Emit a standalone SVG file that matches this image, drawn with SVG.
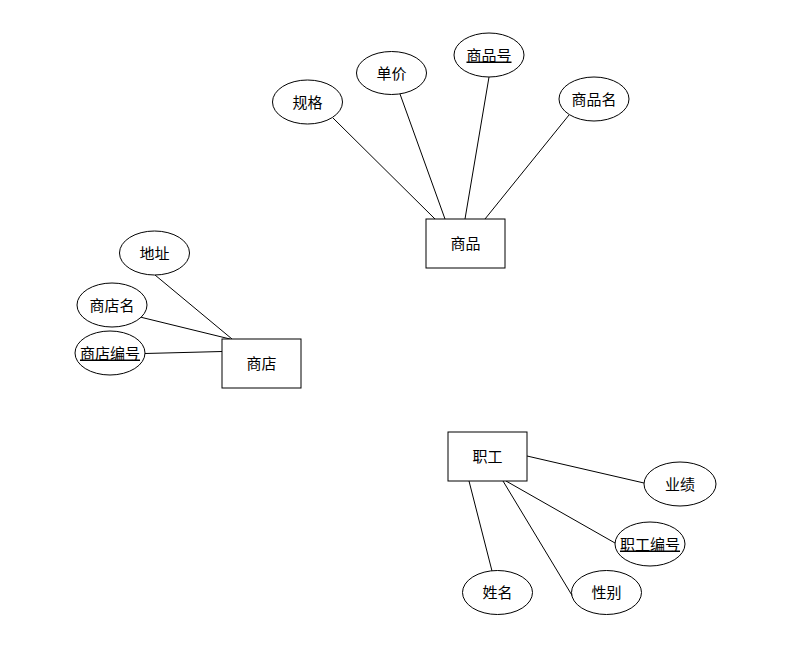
<svg xmlns="http://www.w3.org/2000/svg" width="788" height="646" viewBox="0 0 788 646">
<style>
  .shape { fill: #ffffff; stroke: #000000; stroke-width: 1; }
  .edge { stroke: #000000; stroke-width: 1; fill: none; }
  text { font-family: "Noto Sans CJK SC", "Noto Sans", sans-serif; font-size: 15px; fill: #000000; text-anchor: middle; }
  .key { text-decoration: underline; }
</style>
<rect x="0" y="0" width="788" height="646" fill="#ffffff"/>
<g id="connectors">
  <line class="edge" x1="333" y1="118" x2="435" y2="219"/>
  <line class="edge" x1="400" y1="94" x2="445" y2="219"/>
  <line class="edge" x1="489" y1="77" x2="465" y2="219"/>
  <line class="edge" x1="569" y1="115" x2="485" y2="219"/>
  <line class="edge" x1="155" y1="275" x2="232" y2="339"/>
  <line class="edge" x1="140" y1="317" x2="230" y2="339"/>
  <line class="edge" x1="145" y1="353.5" x2="222" y2="351.5"/>
  <line class="edge" x1="527" y1="456" x2="644" y2="483"/>
  <line class="edge" x1="506" y1="481" x2="615" y2="543"/>
  <line class="edge" x1="503" y1="481" x2="573" y2="597"/>
  <line class="edge" x1="469" y1="481" x2="492" y2="571"/>
</g>
<g id="node-shangpin">
  <rect class="shape" x="426" y="219" width="79" height="49"/>
  <text x="465.5" y="249">商品</text>
</g>
<g id="node-guige">
  <ellipse class="shape" cx="307.5" cy="102" rx="35" ry="22"/>
  <text x="307.5" y="107.5">规格</text>
</g>
<g id="node-danjia">
  <ellipse class="shape" cx="391.5" cy="73" rx="35" ry="21.5"/>
  <text x="391.5" y="78.5">单价</text>
</g>
<g id="node-shangpinhao">
  <ellipse class="shape" cx="489" cy="55" rx="35" ry="22"/>
  <text class="key" x="489" y="60.5">商品号</text>
</g>
<g id="node-shangpinming">
  <ellipse class="shape" cx="594" cy="99" rx="35" ry="22"/>
  <text x="594" y="104.5">商品名</text>
</g>
<g id="node-shangdian">
  <rect class="shape" x="222" y="339" width="79" height="49"/>
  <text x="261.5" y="369">商店</text>
</g>
<g id="node-dizhi">
  <ellipse class="shape" cx="154.5" cy="253" rx="35" ry="22"/>
  <text x="154.5" y="258.5">地址</text>
</g>
<g id="node-shangdianming">
  <ellipse class="shape" cx="112" cy="305" rx="35" ry="22"/>
  <text x="112" y="310.5">商店名</text>
</g>
<g id="node-shangdianbianhao">
  <ellipse class="shape" cx="110" cy="353" rx="35" ry="22"/>
  <text class="key" x="110" y="358.5">商店编号</text>
</g>
<g id="node-zhigong">
  <rect class="shape" x="448" y="432" width="79" height="49"/>
  <text x="487.5" y="462">职工</text>
</g>
<g id="node-yeji">
  <ellipse class="shape" cx="680" cy="484" rx="36" ry="22"/>
  <text x="680" y="489.5">业绩</text>
</g>
<g id="node-zhigongbianhao">
  <ellipse class="shape" cx="650" cy="544" rx="35" ry="22"/>
  <text class="key" x="650" y="549.5">职工编号</text>
</g>
<g id="node-xingming">
  <ellipse class="shape" cx="497.5" cy="592.5" rx="35" ry="22"/>
  <text x="497.5" y="598">姓名</text>
</g>
<g id="node-xingbie">
  <ellipse class="shape" cx="606.5" cy="592.5" rx="35" ry="22"/>
  <text x="606.5" y="598">性别</text>
</g>
</svg>
